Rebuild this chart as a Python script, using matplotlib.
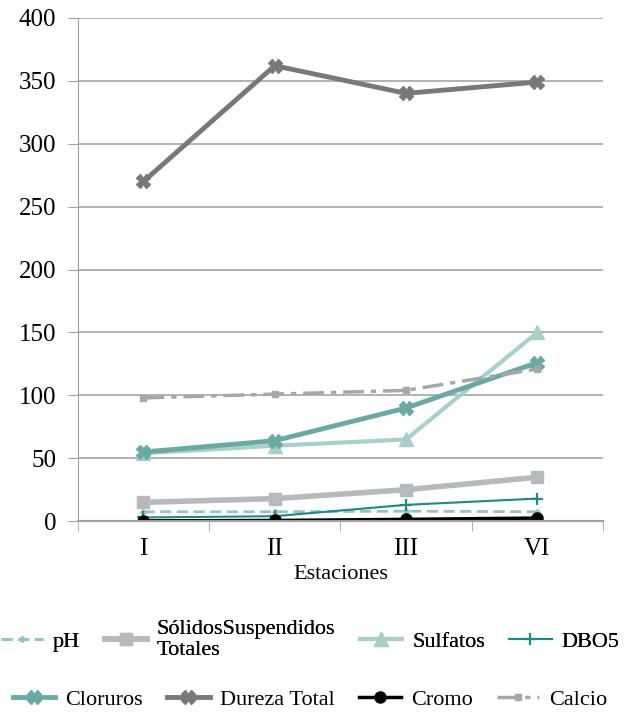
import matplotlib
matplotlib.use('Agg')
import matplotlib.pyplot as plt

estaciones = ['I', 'II', 'III', 'VI']
ph = [7.5, 7.5, 8, 7.5]
solidos = [15, 18, 25, 35]
sulfatos = [54, 60, 65, 150]
dbo5 = [3, 4, 13, 18]
cloruros = [55, 64, 90, 126]
dureza = [270, 362, 340, 349]
cromo = [0.3, 0.6, 1.5, 2.5]
calcio = [98, 101, 104, 121]

plt.rcParams['font.family'] = ['Liberation Serif', 'DejaVu Serif']

fig = plt.figure(figsize=(6.28, 7.15), dpi=100)
ax = fig.add_axes([0.124, 0.271, 0.836, 0.704])

x = list(range(len(estaciones)))
h_ph, = ax.plot(x, ph, color='#93c4bf', lw=2, ls=(0, (4, 2)), marker='D', ms=3, label='pH')
h_sol, = ax.plot(x, solidos, color='#b8b9bb', lw=4, marker='s', ms=9, label='SólidosSuspendidos\nTotales')
h_sul, = ax.plot(x, sulfatos, color='#a8cfca', lw=3, marker='^', ms=10, label='Sulfatos')
h_dbo, = ax.plot(x, dbo5, color='#1b8a85', lw=1.5, marker='+', ms=9, mew=1.5, label='DBO5')
h_clo, = ax.plot(x, cloruros, color='#6aaaa4', lw=3.5, marker='X', ms=10, label='Cloruros')
h_dur, = ax.plot(x, dureza, color='#78787b', lw=3.5, marker='X', ms=10, label='Dureza Total')
h_cro, = ax.plot(x, cromo, color='black', lw=2.5, marker='o', ms=8, label='Cromo')
h_cal, = ax.plot(x, calcio, color='#a7a7ab', lw=2.5, ls=(0, (6, 2, 1.5, 2)), marker='s', ms=4, label='Calcio')

ax.set_xlim(-0.5, 3.5)
ax.set_ylim(0, 400)
ax.set_yticks(range(0, 401, 50))
ax.set_xticks(x)
ax.set_xticklabels(estaciones)
ax.set_xticks([-0.5, 0.5, 1.5, 2.5, 3.5], minor=True)
ax.tick_params(axis='x', which='major', length=0, pad=12, labelsize=18)
ax.tick_params(axis='x', which='minor', length=7.5, color='#a0a0a0', direction='out')
ax.tick_params(axis='y', length=7.5, color='#a0a0a0', labelsize=18, pad=8)
ax.grid(axis='y', color='#a6a6a6', lw=1.2)
ax.set_axisbelow(True)
for s in ['top', 'right']:
    ax.spines[s].set_visible(False)
ax.spines['left'].set_color('#a0a0a0')
ax.spines['bottom'].set_color('#a0a0a0')
ax.spines['bottom'].set_linewidth(1.5)
ax.set_xlabel('Estaciones', fontsize=16, labelpad=4)

# two legend rows, laid out independently like the original
kw = dict(loc='center', ncol=4, frameon=False, fontsize=16, handlelength=1.9,
          handletextpad=0.45, columnspacing=1.1, borderpad=0)
leg1 = fig.legend(handles=[h_ph, h_sol, h_sul, h_dbo], bbox_to_anchor=(0.494, 0.105), **kw)
fig.add_artist(leg1)
fig.legend(handles=[h_clo, h_dur, h_cro, h_cal], bbox_to_anchor=(0.494, 0.021), **kw)

fig.savefig('out.png', dpi=100)
